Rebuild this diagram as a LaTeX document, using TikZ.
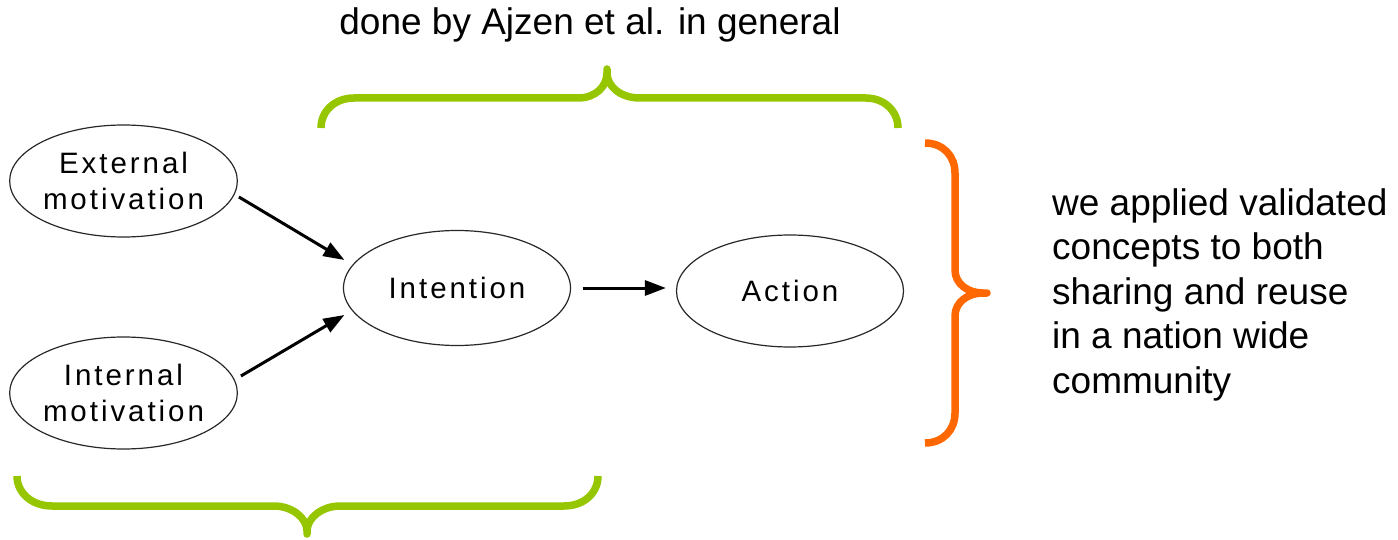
\documentclass[tikz,border=0pt]{standalone}
\usepackage{fontspec}
\setmainfont{Liberation Sans}
\newfontfamily\spacedfont[LetterSpace=10]{Liberation Sans}
\usetikzlibrary{shapes.geometric,arrows.meta}
\definecolor{bracegreen}{RGB}{150,198,0}
\definecolor{braceorange}{RGB}{255,104,0}
\definecolor{ellline}{RGB}{40,40,40}
\tikzset{
  oval/.style={ellipse, draw=ellline, line width=1.2pt, inner sep=0pt,
    minimum width=227pt, align=center,
    font=\spacedfont\fontsize{29.5}{35.5}\selectfont},
  arr/.style={line width=3pt, -{Triangle[length=21pt,width=15pt]}},
  bracepath/.style={line width=7.5pt, line cap=butt, line join=round},
  bigtext/.style={inner sep=0pt, font=\fontsize{37}{44.5}\selectfont}
}
\begin{document}
\begin{tikzpicture}[x=1pt,y=-1pt]
\useasboundingbox (0,0) rectangle (1398,540);
\node[oval, minimum height=112pt] (ext) at (123.5,181) {External\\motivation};
\node[oval, minimum height=112pt] (int) at (123.5,393) {Internal\\motivation};
\node[oval, minimum height=115pt] (intn) at (457,288) {Intention};
\node[oval, minimum height=112pt] (act) at (790,291) {Action};
\draw[arr] ([xshift=1pt,yshift=-16pt]ext.east) -- ([xshift=1.5pt,yshift=28pt]intn.west);
\draw[arr] ([xshift=3pt,yshift=17pt]int.east) -- ([xshift=1.5pt,yshift=-27pt]intn.west);
\draw[arr] ([xshift=11.5pt]intn.east) -- ([xshift=-10pt,yshift=3pt]act.west);
\node[bigtext, anchor=base] (top) at (590,35) {done by Ajzen et al. in general};
\node[bigtext, anchor=north west, align=left] (right) at (1052,188)
  {we applied validated\\concepts to both\\sharing and reuse\\in a nation wide\\community};
\draw[bracepath, bracegreen] (321,128) .. controls (321,111) and (335,98) .. (354,98)
  -- (578,98) .. controls (596,98) and (607,86) .. (607,73) -- (607,69) -- (607,73)
  .. controls (607,86) and (620,98) .. (640,98) -- (866,98)
  .. controls (884,98) and (898,111) .. (898,128);
\draw[bracepath, bracegreen] (17,476) .. controls (17,493) and (32,506) .. (52,506)
  -- (274,506) .. controls (292,506) and (307,518) .. (307,531) -- (307,534) -- (307,531)
  .. controls (307,518) and (322,506) .. (340,506) -- (564,506)
  .. controls (584,506) and (598,493) .. (598,476);
\draw[bracepath, braceorange] (925,143) .. controls (943,143) and (955,156) .. (955,173)
  -- (955,270) .. controls (955,284) and (968,293) .. (983,293) -- (987,293) -- (983,293)
  .. controls (968,293) and (955,302) .. (955,316) -- (955,413)
  .. controls (955,430) and (943,443) .. (925,443);
\end{tikzpicture}
\end{document}
